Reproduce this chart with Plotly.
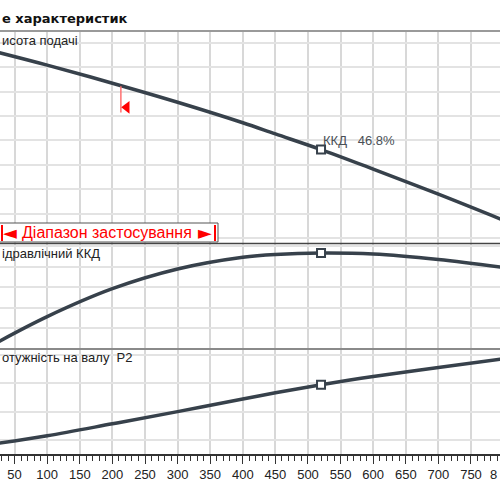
import plotly.graph_objects as go
from plotly.subplots import make_subplots

# ---- data ----
flow = [25, 100, 200, 300, 400, 450, 520, 600, 700, 800]                   # Q
head = [7.60, 7.08, 6.34, 5.56, 4.72, 4.26, 3.62, 2.82, 1.79, 0.72]        # head (grid units)
eff = [3.5, 15.8, 29.4, 39.0, 44.7, 46.1, 46.8, 46.3, 43.6, 39.7]          # hydraulic efficiency, %
power = [-0.115, 0.15, 0.57, 1.00, 1.44, 1.66, 1.94, 2.23, 2.55, 2.86]     # shaft power P2 (grid units)

duty_q = 520
duty_head = 3.62
duty_eff = 46.8
duty_power = 1.94

minflow_q = [213, 213]
minflow_head = [6.22, 5.14]
minflow_arrow_q = [222]
minflow_arrow_head = [5.35]

tick_vals = [50, 100, 150, 200, 250, 300, 350, 400, 450, 500, 550, 600, 650, 700, 750]
edge_tick_visible = "8"   # only the first digit of "800" is inside the picture
x_range = [27.6, 794.5]

W, H = 500, 500
MT, MB = 31, 46
LINE = "#37414b"

def py(px):
    return (H - MB - px) / (H - MT - MB)

def pxx(px):
    return px / W

fig = make_subplots(rows=3, cols=1, shared_xaxes=True, vertical_spacing=0,
                    row_heights=[213, 105, 105])

CURVE = dict(color=LINE, width=3.5, shape="spline", smoothing=1.0)
BOX = dict(symbol="square", color="white", size=8, line=dict(color=LINE, width=2))

fig.add_trace(go.Scatter(x=flow, y=head, mode="lines", line=CURVE), row=1, col=1)
fig.add_trace(go.Scatter(x=minflow_q, y=minflow_head, mode="lines",
                         line=dict(color="#ff7070", width=1.5)), row=1, col=1)
fig.add_trace(go.Scatter(x=minflow_arrow_q, y=minflow_arrow_head, mode="markers",
                         marker=dict(symbol="triangle-left", color="#ff0000", size=11)), row=1, col=1)
fig.add_trace(go.Scatter(x=[duty_q], y=[duty_head], mode="markers", marker=BOX), row=1, col=1)

fig.add_trace(go.Scatter(x=flow, y=eff, mode="lines", line=CURVE), row=2, col=1)
fig.add_trace(go.Scatter(x=[duty_q], y=[duty_eff], mode="markers", marker=BOX), row=2, col=1)

fig.add_trace(go.Scatter(x=flow, y=power, mode="lines", line=CURVE), row=3, col=1)
fig.add_trace(go.Scatter(x=[duty_q], y=[duty_power], mode="markers", marker=BOX), row=3, col=1)

xgrid = dict(range=x_range, showgrid=True, gridcolor="#d8d8d8", gridwidth=1.5,
             tickvals=tick_vals, zeroline=False)
fig.update_xaxes(**xgrid)
fig.update_xaxes(showticklabels=False, ticks="", row=1, col=1)
fig.update_xaxes(showticklabels=False, ticks="", row=2, col=1)
fig.update_xaxes(row=3, col=1, showline=True, linecolor="#333333", linewidth=1.5,
                 ticks="outside", ticklen=8, tickwidth=1.2, tickcolor="#333333",
                 showticklabels=True, ticktext=[str(v) for v in tick_vals],
                 tickfont=dict(family="Liberation Sans", size=13, color="#222222"),
                 minor=dict(dtick=10, tick0=0, ticks="outside", ticklen=5, tickwidth=1,
                            tickcolor="#333333", showgrid=False))

ygrid = dict(showgrid=True, gridcolor="#e3e3e3", gridwidth=2, showticklabels=False,
             zeroline=False, ticks="")
fig.update_yaxes(**ygrid)
fig.update_yaxes(range=[-0.25, 8.48], dtick=1, tick0=0, row=1, col=1)
fig.update_yaxes(range=[0, 51.2], dtick=10, tick0=0, row=2, col=1)
fig.update_yaxes(range=[-0.49, 3.2], dtick=1, tick0=0, row=3, col=1)

shapes = [
    dict(type="line", xref="paper", yref="paper", x0=0, x1=1, y0=py(31), y1=py(31),
         line=dict(color="#9a9a9a", width=2)),
    dict(type="line", xref="paper", yref="paper", x0=0, x1=1, y0=py(243.5), y1=py(243.5),
         line=dict(color="#444444", width=1.5)),
    dict(type="line", xref="paper", yref="paper", x0=0, x1=1, y0=py(349), y1=py(349),
         line=dict(color="#8a8a8a", width=2)),
    dict(type="rect", xref="paper", yref="paper", x0=pxx(-2), x1=pxx(218), y0=py(242), y1=py(223),
         line=dict(color="#555555", width=1), fillcolor="white"),
    dict(type="line", xref="paper", yref="paper", x0=pxx(2), x1=pxx(2), y0=py(241), y1=py(225),
         line=dict(color="#ff0000", width=2)),
    dict(type="line", xref="paper", yref="paper", x0=pxx(215), x1=pxx(215), y0=py(241), y1=py(225),
         line=dict(color="#ff0000", width=2)),
]

TXT = dict(family="Liberation Sans", size=13, color="#222222")
RED = "#ff0000"
annotations = [
    dict(text="<b>е характеристик</b>", x=0, y=py(18), xref="paper", yref="paper",
         xanchor="left", yanchor="middle", showarrow=False,
         font=dict(family="DejaVu Sans", size=13, color="#111111")),
    dict(text="исота подачі", x=0, y=py(40), xref="paper", yref="paper",
         xanchor="left", yanchor="middle", showarrow=False, font=TXT),
    dict(text="ідравлічний ККД", x=0, y=py(253), xref="paper", yref="paper",
         xanchor="left", yanchor="middle", showarrow=False, font=TXT),
    dict(text="отужність на валу  P2", x=0, y=py(357.5), xref="paper", yref="paper",
         xanchor="left", yanchor="middle", showarrow=False, font=TXT),
    dict(text="ККД   46.8%", x=pxx(321), y=py(140), xref="paper", yref="paper",
         xanchor="left", yanchor="middle", showarrow=False,
         font=dict(family="Liberation Sans", size=13, color="#4a4f55")),
    dict(text="Діапазон застосування", x=pxx(107), y=py(232.5), xref="paper", yref="paper",
         xanchor="center", yanchor="middle", showarrow=False,
         font=dict(family="Liberation Sans", size=16, color=RED)),
    dict(text="◄", x=pxx(9.5), y=py(232.5), xref="paper", yref="paper",
         xanchor="center", yanchor="middle", showarrow=False,
         font=dict(family="DejaVu Sans", size=18, color=RED)),
    dict(text="►", x=pxx(205), y=py(232.5), xref="paper", yref="paper",
         xanchor="center", yanchor="middle", showarrow=False,
         font=dict(family="DejaVu Sans", size=18, color=RED)),
    dict(text=edge_tick_visible, x=1, xref="paper", y=py(474.5), yref="paper",
         xanchor="right", xshift=-1, yanchor="middle", showarrow=False,
         font=dict(family="Liberation Sans", size=13, color="#222222")),
]

fig.update_layout(width=W, height=H, margin=dict(l=0, r=0, t=MT, b=MB),
                  paper_bgcolor="white", plot_bgcolor="white", showlegend=False,
                  shapes=shapes, annotations=annotations)

fig.write_html("out.html")
